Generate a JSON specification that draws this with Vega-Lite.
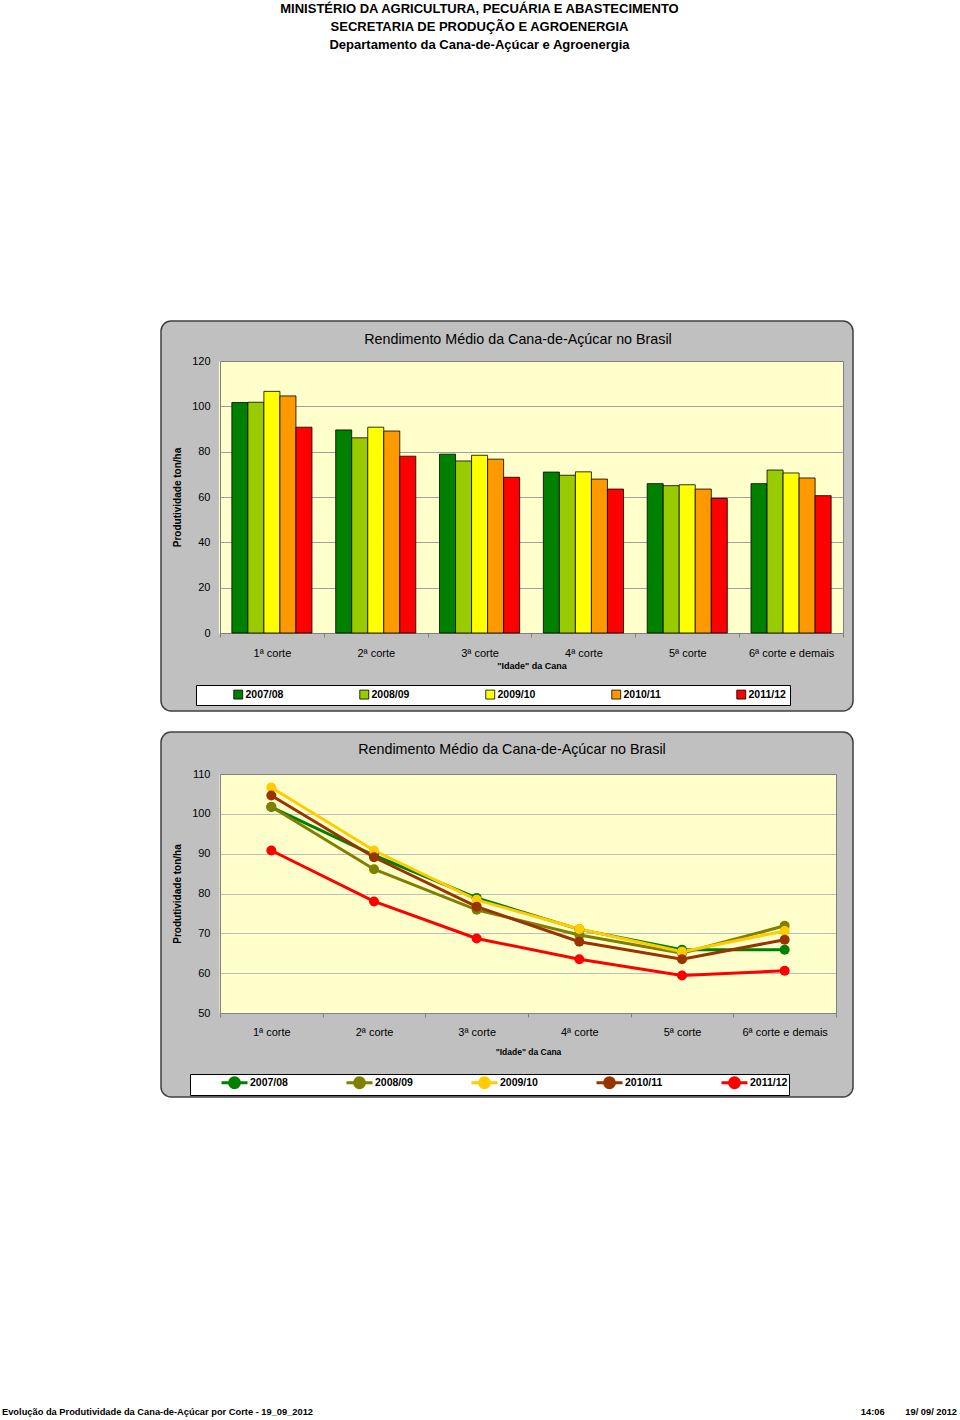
{
  "$schema": "https://vega.github.io/schema/vega-lite/v6.json",
  "background": "white",
  "padding": {"left": 2, "top": 3, "right": 0, "bottom": 0},
  "config": {
    "font": "Liberation Sans",
    "view": {"stroke": null},
    "title": {"color": "black"},
    "axis": {"labelColor": "black", "titleColor": "black"}
  },
  "title": {
    "text": ["MINISTÉRIO DA AGRICULTURA, PECUÁRIA E ABASTECIMENTO", "SECRETARIA DE PRODUÇÃO E AGROENERGIA", "Departamento da Cana-de-Açúcar e Agroenergia"],
    "anchor": "middle",
    "frame": "bounds",
    "fontSize": 13,
    "fontWeight": "bold",
    "lineHeight": 18,
    "offset": 268
  },
  "datasets": {
    "rend": [
      {"corte": "1ª corte", "safra": "2007/08", "valor": 101.7},
      {"corte": "1ª corte", "safra": "2008/09", "valor": 101.8},
      {"corte": "1ª corte", "safra": "2009/10", "valor": 106.6},
      {"corte": "1ª corte", "safra": "2010/11", "valor": 104.6},
      {"corte": "1ª corte", "safra": "2011/12", "valor": 90.8},
      {"corte": "2ª corte", "safra": "2007/08", "valor": 89.6},
      {"corte": "2ª corte", "safra": "2008/09", "valor": 86.1},
      {"corte": "2ª corte", "safra": "2009/10", "valor": 90.8},
      {"corte": "2ª corte", "safra": "2010/11", "valor": 89.1},
      {"corte": "2ª corte", "safra": "2011/12", "valor": 78.0},
      {"corte": "3ª corte", "safra": "2007/08", "valor": 78.9},
      {"corte": "3ª corte", "safra": "2008/09", "valor": 75.9},
      {"corte": "3ª corte", "safra": "2009/10", "valor": 78.4},
      {"corte": "3ª corte", "safra": "2010/11", "valor": 76.7},
      {"corte": "3ª corte", "safra": "2011/12", "valor": 68.7},
      {"corte": "4ª corte", "safra": "2007/08", "valor": 71.0},
      {"corte": "4ª corte", "safra": "2008/09", "valor": 69.6},
      {"corte": "4ª corte", "safra": "2009/10", "valor": 71.1},
      {"corte": "4ª corte", "safra": "2010/11", "valor": 67.9},
      {"corte": "4ª corte", "safra": "2011/12", "valor": 63.5},
      {"corte": "5ª corte", "safra": "2007/08", "valor": 65.9},
      {"corte": "5ª corte", "safra": "2008/09", "valor": 65.0},
      {"corte": "5ª corte", "safra": "2009/10", "valor": 65.4},
      {"corte": "5ª corte", "safra": "2010/11", "valor": 63.5},
      {"corte": "5ª corte", "safra": "2011/12", "valor": 59.4},
      {"corte": "6ª corte e demais", "safra": "2007/08", "valor": 65.9},
      {"corte": "6ª corte e demais", "safra": "2008/09", "valor": 71.9},
      {"corte": "6ª corte e demais", "safra": "2009/10", "valor": 70.6},
      {"corte": "6ª corte e demais", "safra": "2010/11", "valor": 68.4},
      {"corte": "6ª corte e demais", "safra": "2011/12", "valor": 60.6}
    ]
  },
  "bounds": "flush",
  "spacing": 21,
  "resolve": {"scale": {"color": "independent"}, "legend": {"color": "independent"}},
  "vconcat": [
    {
      "name": "barras",
      "width": 692,
      "height": 390,
      "view": {"fill": "#C0C0C0", "stroke": "#404040", "strokeWidth": 1.5, "cornerRadius": 10},
      "title": {"text": "Rendimento Médio da Cana-de-Açúcar no Brasil", "fontSize": 14.3, "fontWeight": "normal", "anchor": "middle", "offset": -26, "dx": 11},
      "data": {"name": "rend"},
      "layer": [
        {
          "transform": [{"filter": "datum.safra === '2007/08'"}],
          "mark": {"type": "rect", "opacity": 0},
          "encoding": {
            "x": {
              "field": "corte", "type": "nominal", "sort": null,
              "scale": {"range": [59, 682], "paddingInner": 0, "paddingOuter": 0},
              "axis": {"orient": "top", "zindex": 0, "title": null, "labels": false, "ticks": false, "tickBand": "center", "domain": true, "domainColor": "#808080", "offset": -40, "grid": true, "gridColor": "#FFFFCC", "gridWidth": 105, "gridOpacity": 1}
            },
            "y": {
              "datum": 0, "type": "quantitative",
              "scale": {"domain": [0, 120], "range": [312, 40], "nice": false},
              "axis": {"orient": "right", "zindex": 0, "title": null, "labels": false, "ticks": false, "grid": false, "domainColor": "#808080", "offset": -10}
            },
            "y2": {"datum": 120}
          }
        },
        {
          "transform": [{"filter": "datum.safra === '2007/08'"}],
          "mark": {"type": "rect", "opacity": 0},
          "encoding": {
            "x": {
              "field": "corte", "type": "nominal", "sort": null,
              "axis": {"orient": "bottom", "zindex": 0, "title": "\"Idade\" da Cana", "titleFontSize": 9, "titleFontWeight": "bold", "titlePadding": 3, "labelAngle": 0, "labelFontSize": 11, "labelPadding": 10, "tickBand": "extent", "tickSize": 4, "tickColor": "#808080", "domainColor": "#808080", "offset": -78, "grid": false}
            },
            "y": {
              "datum": 0, "type": "quantitative",
              "axis": {"orient": "left", "zindex": 0, "title": "Produtividade ton/ha", "titleFontSize": 10, "titleFontWeight": "bold", "titlePadding": 9, "values": [0, 20, 40, 60, 80, 100, 120], "labelFontSize": 11, "labelPadding": 10, "ticks": false, "domainColor": "#808080", "gridColor": "#A0A0A0", "offset": -59, "grid": true}
            },
            "y2": {"datum": 120}
          }
        },
        {
          "mark": {"type": "bar", "stroke": "black", "strokeWidth": 0.8},
          "encoding": {
            "x": {"field": "corte", "type": "nominal", "sort": null, "axis": null},
            "xOffset": {"field": "safra", "type": "nominal", "scale": {"paddingInner": 0, "paddingOuter": 0.74}},
            "y": {"field": "valor", "type": "quantitative", "axis": null},
            "color": {
              "field": "safra", "type": "nominal",
              "scale": {"domain": ["2007/08", "2008/09", "2009/10", "2010/11", "2011/12"], "range": ["#008000", "#99CC00", "#FFFF00", "#FF9900", "#FF0000"]},
              "legend": {"orient": "none", "legendX": 35, "legendY": 364, "direction": "horizontal", "columns": 5, "title": null, "fillColor": "white", "strokeColor": "black", "padding": 4, "symbolType": "square", "symbolSize": 80, "symbolStrokeColor": "black", "symbolStrokeWidth": 0.8, "symbolOffset": 33, "labelFontSize": 10.5, "labelFontWeight": "bold", "labelColor": "black", "labelOffset": 2, "columnPadding": 42}
            }
          }
        }
      ]
    },
    {
      "name": "linhas",
      "width": 692,
      "height": 365,
      "view": {"fill": "#C0C0C0", "stroke": "#404040", "strokeWidth": 1.5, "cornerRadius": 10},
      "title": {"text": "Rendimento Médio da Cana-de-Açúcar no Brasil", "fontSize": 14.3, "fontWeight": "normal", "anchor": "middle", "offset": -25, "dx": 5},
      "data": {"name": "rend"},
      "layer": [
        {
          "transform": [{"filter": "datum.safra === '2007/08'"}],
          "mark": {"type": "rect", "opacity": 0},
          "encoding": {
            "x": {
              "field": "corte", "type": "nominal", "sort": null,
              "scale": {"range": [59, 675], "paddingInner": 0, "paddingOuter": 0},
              "axis": {"orient": "top", "zindex": 0, "title": null, "labels": false, "ticks": false, "tickBand": "center", "domain": true, "domainColor": "#808080", "offset": -42, "grid": true, "gridColor": "#FFFFCC", "gridWidth": 104, "gridOpacity": 1}
            },
            "y": {
              "datum": 50, "type": "quantitative",
              "scale": {"domain": [50, 110], "range": [281, 42], "nice": false, "zero": false},
              "axis": {"orient": "right", "zindex": 0, "title": null, "labels": false, "ticks": false, "grid": false, "domainColor": "#808080", "offset": -17}
            },
            "y2": {"datum": 110}
          }
        },
        {
          "transform": [{"filter": "datum.safra === '2007/08'"}],
          "mark": {"type": "rect", "opacity": 0},
          "encoding": {
            "x": {
              "field": "corte", "type": "nominal", "sort": null,
              "axis": {"orient": "bottom", "zindex": 0, "title": "\"Idade\" da Cana", "titleFontSize": 8.5, "titleFontWeight": "bold", "titlePadding": 10, "labelAngle": 0, "labelFontSize": 11, "labelPadding": 9, "tickBand": "extent", "tickSize": 4, "tickColor": "#808080", "domainColor": "#808080", "offset": -84, "grid": false}
            },
            "y": {
              "datum": 50, "type": "quantitative",
              "axis": {"orient": "left", "zindex": 0, "title": "Produtividade ton/ha", "titleFontSize": 10, "titleFontWeight": "bold", "titlePadding": 9, "values": [50, 60, 70, 80, 90, 100, 110], "labelFontSize": 11, "labelPadding": 10, "ticks": false, "domainColor": "#808080", "gridColor": "#BDBDBD", "offset": -59, "grid": true}
            },
            "y2": {"datum": 110}
          }
        },
        {
          "mark": {"type": "line", "strokeWidth": 3, "point": {"filled": true, "size": 100}},
          "encoding": {
            "x": {"field": "corte", "type": "nominal", "sort": null, "axis": null},
            "y": {"field": "valor", "type": "quantitative", "axis": null},
            "color": {
              "field": "safra", "type": "nominal",
              "scale": {"domain": ["2007/08", "2008/09", "2009/10", "2010/11", "2011/12"], "range": ["#008000", "#808000", "#FFCC00", "#993300", "#FF0000"]},
              "legend": {"orient": "none", "legendX": 29, "legendY": 342, "direction": "horizontal", "columns": 5, "title": null, "fillColor": "white", "strokeColor": "black", "padding": 1, "symbolType": "M-2.17,0L2.17,0M-0.83,0A0.83,0.83,0,1,0,0.83,0A0.83,0.83,0,1,0,-0.83,0Z", "symbolSize": 144, "symbolStrokeWidth": 3, "symbolOffset": 36, "labelFontSize": 10.5, "labelFontWeight": "bold", "labelColor": "black", "labelOffset": 8, "columnPadding": 28,
                "encode": {"symbols": {"update": {"fill": {"scale": "linhas_color", "field": "value"}, "stroke": {"scale": "linhas_color", "field": "value"}}}}}
            }
          }
        }
      ]
    },
    {
      "spacing": 0,
      "hconcat": [
        {
          "width": 346, "height": 285,
          "data": {"values": []},
          "mark": "point",
          "title": {"text": "Evolução da Produtividade da Cana-de-Açúcar por Corte - 19_09_2012", "orient": "bottom", "anchor": "start", "dx": -159, "offset": 5, "fontSize": 9.3, "fontWeight": "bold"}
        },
        {
          "width": 346, "height": 285,
          "data": {"values": []},
          "mark": "point",
          "title": {"text": "14:06\u00a0\u00a0\u00a0\u00a0\u00a0\u00a0\u00a0\u00a019/ 09/ 2012", "orient": "bottom", "anchor": "end", "dx": 104, "offset": 5, "fontSize": 9.3, "fontWeight": "bold"}
        }
      ]
    }
  ]
}
